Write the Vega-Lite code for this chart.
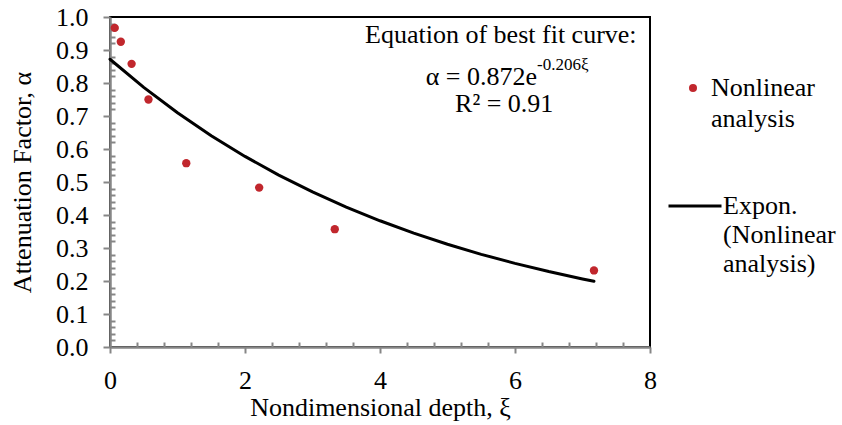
{
  "$schema": "https://vega.github.io/schema/vega-lite/v6.json",
  "width": 540,
  "height": 330,
  "autosize": {"type": "none"},
  "padding": {"left": 110, "top": 17, "right": 192, "bottom": 78},
  "background": "white",
  "config": {
    "view": {"stroke": "black", "strokeWidth": 2},
    "font": "Liberation Serif",
    "text": {"font": "Liberation Serif", "color": "black"}
  },
  "datasets": {
    "points": [
      {"xi": 0.07, "alpha": 0.967, "series": "Nonlinear analysis"},
      {"xi": 0.16, "alpha": 0.925, "series": "Nonlinear analysis"},
      {"xi": 0.32, "alpha": 0.858, "series": "Nonlinear analysis"},
      {"xi": 0.57, "alpha": 0.75, "series": "Nonlinear analysis"},
      {"xi": 1.13, "alpha": 0.557, "series": "Nonlinear analysis"},
      {"xi": 2.21, "alpha": 0.483, "series": "Nonlinear analysis"},
      {"xi": 3.33, "alpha": 0.357, "series": "Nonlinear analysis"},
      {"xi": 7.17, "alpha": 0.232, "series": "Nonlinear analysis"}
    ],
    "fit": [
      {"xi": 0, "alpha": 0.872, "series": "Expon. (Nonlinear analysis)"},
      {"xi": 0.5, "alpha": 0.7867, "series": "Expon. (Nonlinear analysis)"},
      {"xi": 1, "alpha": 0.7097, "series": "Expon. (Nonlinear analysis)"},
      {"xi": 1.5, "alpha": 0.6402, "series": "Expon. (Nonlinear analysis)"},
      {"xi": 2, "alpha": 0.5775, "series": "Expon. (Nonlinear analysis)"},
      {"xi": 2.5, "alpha": 0.521, "series": "Expon. (Nonlinear analysis)"},
      {"xi": 3, "alpha": 0.47, "series": "Expon. (Nonlinear analysis)"},
      {"xi": 3.5, "alpha": 0.424, "series": "Expon. (Nonlinear analysis)"},
      {"xi": 4, "alpha": 0.3825, "series": "Expon. (Nonlinear analysis)"},
      {"xi": 4.5, "alpha": 0.3451, "series": "Expon. (Nonlinear analysis)"},
      {"xi": 5, "alpha": 0.3113, "series": "Expon. (Nonlinear analysis)"},
      {"xi": 5.5, "alpha": 0.2808, "series": "Expon. (Nonlinear analysis)"},
      {"xi": 6, "alpha": 0.2534, "series": "Expon. (Nonlinear analysis)"},
      {"xi": 6.5, "alpha": 0.2286, "series": "Expon. (Nonlinear analysis)"},
      {"xi": 7, "alpha": 0.2062, "series": "Expon. (Nonlinear analysis)"},
      {"xi": 7.17, "alpha": 0.1991, "series": "Expon. (Nonlinear analysis)"}
    ]
  },
  "layer": [
    {
      "data": {"name": "fit"},
      "mark": {"type": "line", "strokeWidth": 3, "strokeCap": "round"},
      "encoding": {
        "x": {
          "field": "xi",
          "type": "quantitative",
          "scale": {"domain": [0, 8], "nice": false, "zero": false},
          "axis": {
            "title": "Nondimensional depth, ξ",
            "values": [0, 0.4, 0.8, 1.2, 1.6, 2, 2.4, 2.8, 3.2, 3.6, 4, 4.4, 4.8, 5.2, 5.6, 6, 6.4, 6.8, 7.2, 7.6, 8],
            "tickCount": 200,
            "format": ".0f",
            "labelExpr": "abs(datum.value/2 - round(datum.value/2)) < 0.001 ? datum.label : ''",
            "labelOverlap": false,
            "labelFlush": false,
            "grid": false,
            "domainColor": "#868686",
            "domainWidth": 2.5,
            "tickColor": "#868686",
            "tickWidth": 2,
            "tickSize": {"condition": {"test": "abs(datum.value/2 - round(datum.value/2)) < 0.001", "value": 6}, "value": -5},
            "labelFont": "Liberation Serif",
            "labelFontSize": 26,
            "labelColor": "black",
            "labelPadding": 14,
            "titleFont": "Liberation Serif",
            "titleFontSize": 26,
            "titleFontWeight": "normal",
            "titleColor": "black",
            "titlePadding": 1
          }
        },
        "y": {
          "field": "alpha",
          "type": "quantitative",
          "scale": {"domain": [0, 1], "nice": false, "zero": false},
          "axis": {
            "title": "Attenuation Factor, α",
            "values": [0, 0.02, 0.04, 0.06, 0.08, 0.1, 0.12, 0.14, 0.16, 0.18, 0.2, 0.22, 0.24, 0.26, 0.28, 0.3, 0.32, 0.34, 0.36, 0.38, 0.4, 0.42, 0.44, 0.46, 0.48, 0.5, 0.52, 0.54, 0.56, 0.58, 0.6, 0.62, 0.64, 0.66, 0.68, 0.7, 0.72, 0.74, 0.76, 0.78, 0.8, 0.82, 0.84, 0.86, 0.88, 0.9, 0.92, 0.94, 0.96, 0.98, 1],
            "tickCount": 200,
            "format": ".1f",
            "labelExpr": "abs(datum.value*10 - round(datum.value*10)) < 0.001 ? datum.label : ''",
            "labelOverlap": false,
            "labelFlush": false,
            "grid": false,
            "domainColor": "#868686",
            "domainWidth": 2.5,
            "tickColor": "#868686",
            "tickWidth": 2,
            "tickSize": {"condition": {"test": "abs(datum.value*10 - round(datum.value*10)) < 0.001", "value": 7}, "value": -5},
            "labelFont": "Liberation Serif",
            "labelFontSize": 26,
            "labelColor": "black",
            "labelPadding": 15,
            "titleFont": "Liberation Serif",
            "titleFontSize": 26,
            "titleFontWeight": "normal",
            "titleColor": "black",
            "titlePadding": 20
          }
        },
        "stroke": {
          "field": "series",
          "type": "nominal",
          "scale": {"domain": ["Expon. (Nonlinear analysis)"], "range": ["black"]},
          "legend": {
            "orient": "none",
            "legendX": 557,
            "legendY": 161,
            "title": null,
            "padding": 0,
            "symbolType": "stroke",
            "symbolSize": 2809,
            "symbolStrokeWidth": 3,
            "symbolStrokeColor": "black",
            "labelFont": "Liberation Serif",
            "labelFontSize": 26,
            "labelColor": "black",
            "labelOffset": 0,
            "labelLimit": 300,
            "labelExpr": "['Expon.', '(Nonlinear', 'analysis)']",
            "encode": {"labels": {"update": {"lineHeight": {"value": 29}}}}
          }
        }
      }
    },
    {
      "data": {"name": "points"},
      "mark": {"type": "point", "filled": true, "size": 70, "opacity": 1},
      "encoding": {
        "x": {"field": "xi", "type": "quantitative"},
        "y": {"field": "alpha", "type": "quantitative"},
        "fill": {
          "field": "series",
          "type": "nominal",
          "scale": {"domain": ["Nonlinear analysis"], "range": ["#c1272d"]},
          "legend": {
            "orient": "none",
            "legendX": 570,
            "legendY": 58,
            "title": null,
            "padding": 0,
            "symbolType": "circle",
            "symbolSize": 65,
            "symbolOpacity": 1,
            "labelFont": "Liberation Serif",
            "labelFontSize": 26,
            "labelColor": "black",
            "labelOffset": 5,
            "labelLimit": 300,
            "labelExpr": "['Nonlinear', 'analysis']",
            "encode": {"labels": {"update": {"lineHeight": {"value": 31}}}}
          }
        }
      }
    },
    {
      "data": {"values": [{}]},
      "mark": {"type": "text", "align": "center", "baseline": "alphabetic", "fontSize": 26},
      "encoding": {
        "x": {"datum": 5.79, "type": "quantitative"},
        "y": {"datum": 0.921, "type": "quantitative"},
        "text": {"value": "Equation of best fit curve:"}
      }
    },
    {
      "data": {"values": [{}]},
      "mark": {"type": "text", "align": "right", "baseline": "alphabetic", "fontSize": 26},
      "encoding": {
        "x": {"datum": 6.326, "type": "quantitative"},
        "y": {"datum": 0.794, "type": "quantitative"},
        "text": {"value": "α = 0.872e"}
      }
    },
    {
      "data": {"values": [{}]},
      "mark": {"type": "text", "align": "left", "baseline": "alphabetic", "fontSize": 17},
      "encoding": {
        "x": {"datum": 6.326, "type": "quantitative"},
        "y": {"datum": 0.839, "type": "quantitative"},
        "text": {"value": "-0.206ξ"}
      }
    },
    {
      "data": {"values": [{}]},
      "mark": {"type": "text", "align": "center", "baseline": "alphabetic", "fontSize": 26},
      "encoding": {
        "x": {"datum": 5.84, "type": "quantitative"},
        "y": {"datum": 0.712, "type": "quantitative"},
        "text": {"value": "R² = 0.91"}
      }
    }
  ]
}
